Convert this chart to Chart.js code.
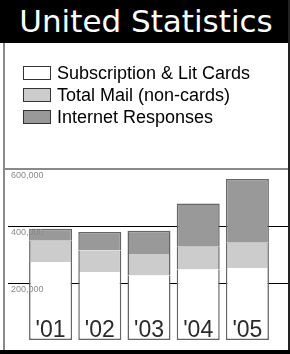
<!DOCTYPE html>
<html>
<head>
<meta charset="utf-8">
<script src="https://cdn.jsdelivr.net/npm/chart.js@4/dist/chart.umd.min.js"></script>
<style>
  html, body { margin: 0; padding: 0; background: #fff; }
  #wrap { position: relative; width: 290px; height: 354px; overflow: hidden; background: #fff; }
  #chart { position: absolute; left: 0; top: 0; width: 290px; height: 354px; }
  #title { position: absolute; left: 0; top: 0; width: 292px; height: 43px; background: #000; color: #fff;
           font-family: "DejaVu Sans", sans-serif; font-weight: 400; font-size: 31px; line-height: 43px;
           text-align: center; z-index: 2; }
  #lborder { position: absolute; left: 3px; top: 43px; width: 2px; height: 308px; background: #8a8a8a; z-index: 2; }
  #rborder { position: absolute; left: 288px; top: 0; width: 2px; height: 354px; background: #222; z-index: 2; }
  #bborder { position: absolute; left: 0; top: 350px; width: 290px; height: 4px; background: #000; z-index: 2; }
  #legend { position: absolute; left: 23px; top: 62px; z-index: 2; font-family: "Liberation Sans", Arial, sans-serif;
            font-size: 18px; color: #000; }
  .row { display: flex; align-items: center; height: 22px; }
  .box { width: 26px; height: 12px; border: 1px solid #333; margin-right: 6px; }
</style>
</head>
<body>
<div id="wrap">
  <canvas id="chart" width="290" height="354"></canvas>
  <div id="title">United Statistics</div>
  <div id="legend"></div>
  <div id="lborder"></div>
  <div id="rborder"></div>
  <div id="bborder"></div>
</div>
<script>
const years = ["'01", "'02", "'03", "'04", "'05"];
const subscriptionLitCards = [274000, 239000, 226000, 247000, 253000];
const totalMailNonCards = [74000, 75000, 76000, 80000, 88000];
const internetResponses = [42000, 65000, 81000, 152000, 224000];
const seriesNames = ["Subscription & Lit Cards", "Total Mail (non-cards)", "Internet Responses"];
const seriesColors = ["#ffffff", "#cccccc", "#999999"];
const yTicks = [0, 200000, 400000, 600000];

// HTML legend
const legend = document.getElementById('legend');
seriesNames.forEach((name, i) => {
  const row = document.createElement('div');
  row.className = 'row';
  const box = document.createElement('div');
  box.className = 'box';
  box.style.background = seriesColors[i];
  const label = document.createElement('span');
  label.textContent = name;
  row.appendChild(box);
  row.appendChild(label);
  legend.appendChild(row);
});

const fmt = v => v.toLocaleString('en-US');

const gridPlugin = {
  id: 'fullGrid',
  beforeDatasetsDraw(chart) {
    const ctx = chart.ctx;
    const y = chart.scales.y;
    ctx.save();
    y.ticks.forEach(t => {
      if (t.value === 0) return;
      const top = t.value === yTicks[yTicks.length - 1];
      const py = Math.round(y.getPixelForValue(t.value));
      ctx.beginPath();
      ctx.strokeStyle = top ? '#8a8a8a' : '#000';
      ctx.lineWidth = top ? 2 : 1;
      const yy = top ? py : py + 0.5;
      ctx.moveTo(top ? 4 : 8, yy);
      ctx.lineTo(288, yy);
      ctx.stroke();
    });
    ctx.restore();
  },
  afterDatasetsDraw(chart) {
    const ctx = chart.ctx;
    const y = chart.scales.y;
    const x = chart.scales.x;
    ctx.save();
    // y tick labels, just below their grid lines
    ctx.font = '9px "Liberation Sans", Arial, sans-serif';
    ctx.fillStyle = '#8a8a8a';
    ctx.textAlign = 'left';
    ctx.textBaseline = 'alphabetic';
    y.ticks.forEach(t => {
      if (t.value === 0) return;
      const py = Math.round(y.getPixelForValue(t.value));
      ctx.fillText(fmt(t.value), 11, py + 9);
    });
    // year labels inside the bars, near the base
    ctx.font = '23px "Liberation Sans", Arial, sans-serif';
    ctx.fillStyle = '#2a2a2a';
    ctx.textAlign = 'center';
    const base = y.getPixelForValue(0);
    x.ticks.forEach((t, i) => {
      ctx.fillText(x.getLabelForValue(t.value), x.getPixelForTick(i), base - 3);
    });
    ctx.restore();
  }
};

const BC = '#666666';
const BW = 1.5;
new Chart(document.getElementById('chart'), {
  type: 'bar',
  data: {
    labels: years,
    datasets: [
      { label: seriesNames[0], data: subscriptionLitCards, backgroundColor: seriesColors[0],
        borderColor: BC, borderWidth: {top: 0, left: BW, right: BW, bottom: BW}, borderSkipped: false },
      { label: seriesNames[1], data: totalMailNonCards, backgroundColor: seriesColors[1],
        borderColor: BC, borderWidth: {top: 0, left: BW, right: BW, bottom: 0}, borderSkipped: false },
      { label: seriesNames[2], data: internetResponses, backgroundColor: seriesColors[2],
        borderColor: BC, borderWidth: {top: BW, left: BW, right: BW, bottom: 0}, borderSkipped: false }
    ]
  },
  options: {
    responsive: false,
    animation: false,
    devicePixelRatio: 1,
    layout: { padding: { top: 169, left: 26, right: 18, bottom: 14 } },
    datasets: { bar: { categoryPercentage: 1, barPercentage: 0.874 } },
    plugins: { legend: { display: false }, tooltip: { enabled: false }, title: { display: false } },
    scales: {
      x: {
        stacked: true,
        display: false
      },
      y: {
        stacked: true,
        display: false,
        min: 0, max: 600000,
        afterBuildTicks(scale) { scale.ticks = yTicks.map(v => ({ value: v })); }
      }
    }
  },
  plugins: [gridPlugin]
});
</script>
</body>
</html>
